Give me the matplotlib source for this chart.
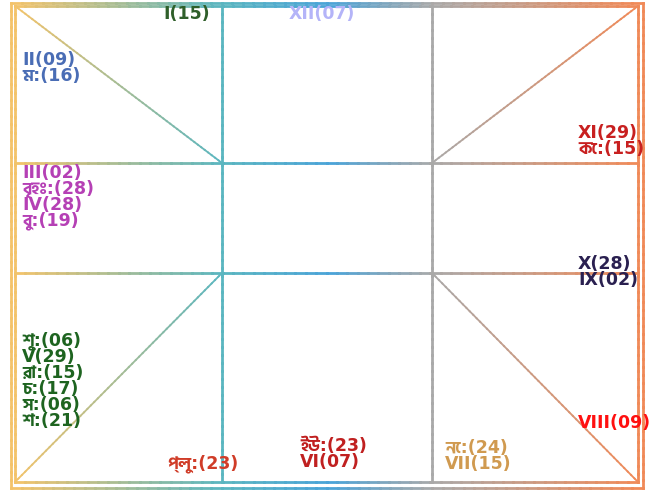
import matplotlib
matplotlib.use("Agg")
import matplotlib.pyplot as plt
import numpy as np
from matplotlib.collections import LineCollection
from matplotlib.colors import LinearSegmentedColormap

# houses (lagna chart) and planets, Bengali short names
house_labels = ["I", "II", "III", "IV", "V", "VI", "VII", "VIII", "IX", "X", "XI", "XII"]
house_degrees = [15, 9, 2, 28, 29, 7, 15, 9, 2, 28, 29, 7]
planet_names = ["শু", "রা", "চ", "স", "শ", "ম", "বৃহঃ", "বু", "কে", "প্লু", "ইউ", "নে"]
planet_degrees = [6, 15, 17, 6, 21, 16, 28, 19, 15, 23, 23, 24]


def h(i):
    return f"{house_labels[i]}({house_degrees[i]:02d})"


def p(j):
    return f"{planet_names[j]}:({planet_degrees[j]:02d})"


# chart frame in pixel coordinates
W, H = 649, 494
L1, L2, R2, R1 = 11, 15, 638, 643
T1, T2, B2, B1 = 3, 6, 482, 488
XA, XB = 222, 432
YA, YB = 163, 273

grad = LinearSegmentedColormap.from_list("frame", [
    (0.0, "#f5c46a"), (L2 / W, "#f3c36a"), (XA / W, "#5ab6c0"),
    (330 / W, "#4aa3d8"), (XB / W, "#a9a9a9"), (R2 / W, "#f08a58"), (1.0, "#f08a58")])

fig = plt.figure(figsize=(6.49, 4.94), dpi=100)
ax = fig.add_axes([0, 0, 1, 1])
ax.set_xlim(0, W)
ax.set_ylim(H, 0)
ax.axis("off")


def gline(x0, y0, x1, y1, lw=2.0, n=60):
    xs = np.linspace(x0, x1, n + 1)
    ys = np.linspace(y0, y1, n + 1)
    segs = np.stack([np.column_stack([xs[:-1], ys[:-1]]), np.column_stack([xs[1:], ys[1:]])], axis=1)
    cols = grad(((xs[:-1] + xs[1:]) / 2) / W)
    ax.add_collection(LineCollection(segs, colors=cols, linewidths=lw, capstyle="projecting"))


# double border
for (a, b, c, d) in [(L1, T1, R1, B1), (L2, T2, R2, B2)]:
    gline(a, b, c, b)
    gline(a, d, c, d)
    gline(a, b, a, d)
    gline(c, b, c, d)

# inner grid
gline(L2, YA, R2, YA)
gline(L2, YB, R2, YB)
gline(XA, T2, XA, B2)
gline(XB, T2, XB, B2)

# corner diagonals
gline(L2, T2, XA, YA, lw=1.3)
gline(XB, YA, R2, T2, lw=1.3)
gline(L2, B2, XA, YB, lw=1.3)
gline(XB, YB, R2, B2, lw=1.3)

fam = ["DejaVu Sans", "Hind Siliguri"]
step = 16

blocks = [
    (210, 14, "right", "#2f5f2a", [h(0)]),
    (289, 14, "left", "#b4b4f8", [h(11)]),
    (22, 60, "left", "#4a6db5", [h(1), p(5)]),
    (22, 173, "left", "#b540b5", [h(2), p(6), h(3), p(7)]),
    (578, 133, "left", "#c82020", [h(10), p(8)]),
    (578, 264, "left", "#2a2050", [h(9), h(8)]),
    (22, 341, "left", "#1e6420", [p(0), h(4), p(1), p(2), p(3), p(4)]),
    (167, 464, "left", "#d03c28", [p(9)]),
    (300, 446, "left", "#c02020", [p(10), h(5)]),
    (445, 448, "left", "#d09a50", [p(11), h(6)]),
    (578, 423, "left", "#ff1010", [h(7)]),
]

for x, y, ha, col, lines in blocks:
    for k, s in enumerate(lines):
        ax.text(x, y + k * step, s, ha=ha, va="center", color=col,
                fontsize=12.5, fontweight="bold", family=fam)

fig.savefig("out.png", dpi=100)
